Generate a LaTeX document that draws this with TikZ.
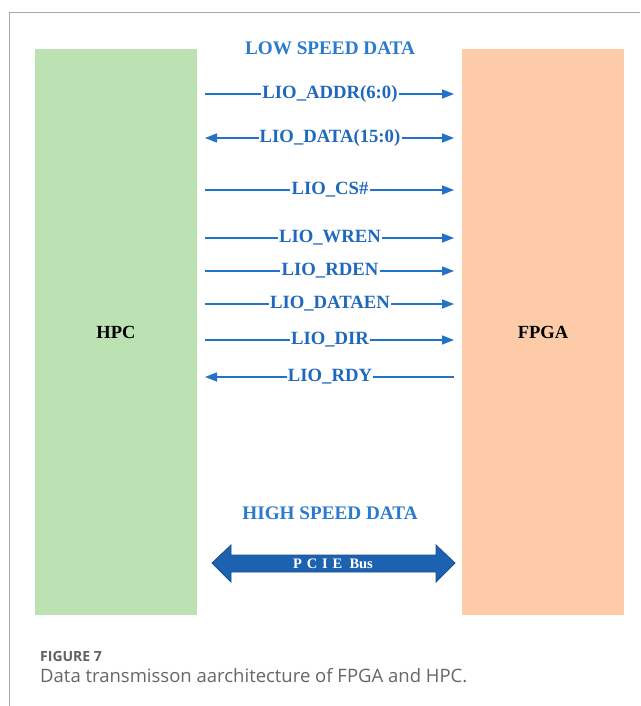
\documentclass[tikz,border=0pt]{standalone}
\usepackage{fontspec}
\setmainfont{Liberation Serif}
\newfontfamily\capfont{Open Sans}
\usetikzlibrary{arrows.meta}
\definecolor{sigblue}{HTML}{2272C8}
\definecolor{txtblue}{HTML}{1F68BE}
\definecolor{hdblue}{HTML}{2A7BD0}
\definecolor{hpcgreen}{HTML}{BCE2B3}
\definecolor{fpgaorange}{HTML}{FDCBA8}
\definecolor{busblue}{HTML}{1D62B0}
\definecolor{busedge}{HTML}{174F8F}
\definecolor{framegray}{HTML}{A8A8A8}
\tikzset{
  sig/.style={draw=sigblue, line width=1.4pt},
  tipr/.style={-{Triangle[length=12pt,width=9pt]}},
  tipl/.style={{Triangle[length=12pt,width=9pt]}-},
  lbl/.style={text=txtblue, font=\bfseries\fontsize{18.7}{20}\selectfont, inner sep=1pt},
  hdr/.style={text=hdblue, font=\bfseries\fontsize{19.2}{21}\selectfont, inner sep=0pt},
  blk/.style={draw=none, minimum width=162pt, minimum height=566pt, inner sep=0pt},
  blktxt/.style={font=\bfseries\fontsize{18.5}{20}\selectfont}
}
\begin{document}
\begin{tikzpicture}[x=1pt,y=-1pt]
\useasboundingbox (0,0) rectangle (640,706);
\fill[white] (0,0) rectangle (640,706);
% frame
\draw[framegray, line width=1pt] (9,706) -- (9,13) -- (640,13);
% blocks
\node[blk, fill=hpcgreen, anchor=north west] (hpc) at (35,49) {};
\node[blk, fill=fpgaorange, anchor=north west] (fpga) at (462,49) {};
\node[blktxt] (hpct) at (116,332) {HPC};
\node[blktxt] (fpgat) at (543,332) {FPGA};
% headers
\node[hdr] (low) at (330,48) {LOW SPEED DATA};
\node[hdr] (high) at (330,513) {HIGH SPEED DATA};
% end coordinates
\foreach \n/\y in {a/94,b/138,c/190,d/238,e/271,f/304,g/340,h/377}{
  \coordinate (L\n) at (205,\y);
  \coordinate (R\n) at (454,\y);
}
% signals
\node[lbl] (sa) at (330,94) {LIO\_ADDR(6:0)};
\draw[sig] (La) -- (sa.west);
\draw[sig, tipr] (sa.east) -- (Ra);
\node[lbl] (sb) at (330,138) {LIO\_DATA(15:0)};
\draw[sig, tipl] (Lb) -- (sb.west);
\draw[sig, tipr] (sb.east) -- (Rb);
\node[lbl] (sc) at (330,190) {LIO\_CS\#};
\draw[sig] (Lc) -- (sc.west);
\draw[sig, tipr] (sc.east) -- (Rc);
\node[lbl] (sd) at (330,238) {LIO\_WREN};
\draw[sig] (Ld) -- (sd.west);
\draw[sig, tipr] (sd.east) -- (Rd);
\node[lbl] (se) at (330,271) {LIO\_RDEN};
\draw[sig] (Le) -- (se.west);
\draw[sig, tipr] (se.east) -- (Re);
\node[lbl] (sf) at (330,304) {LIO\_DATAEN};
\draw[sig] (Lf) -- (sf.west);
\draw[sig, tipr] (sf.east) -- (Rf);
\node[lbl] (sg) at (330,340) {LIO\_DIR};
\draw[sig] (Lg) -- (sg.west);
\draw[sig, tipr] (sg.east) -- (Rg);
\node[lbl] (sh) at (330,377) {LIO\_RDY};
\draw[sig, tipl] (Lh) -- (sh.west);
\draw[sig] (sh.east) -- (Rh);
% PCIE bus
\draw[fill=busblue, draw=busedge, line width=0.8pt, line join=miter]
  (212,563) -- (231,545) -- (231,555) -- (436,555) -- (436,545) -- (455,563)
  -- (436,582) -- (436,572) -- (231,572) -- (231,582) -- cycle;
\node[text=white, font=\bfseries\fontsize{14.5}{16}\selectfont, inner sep=0pt] (bus) at (333,564) {P\,\,C\,\,I\,\,E\ \ Bus};
% caption
\node[anchor=base west, inner sep=0pt, text=black!62, font=\capfont\bfseries\fontsize{14}{16}\selectfont] (fig) at (40,661) {FIGURE 7};
\node[anchor=base west, inner sep=0pt, text=black!60, font=\capfont\fontsize{18.5}{21}\selectfont] (cap) at (40,682) {Data transmisson aarchitecture of FPGA and HPC.};
\end{tikzpicture}
\end{document}
